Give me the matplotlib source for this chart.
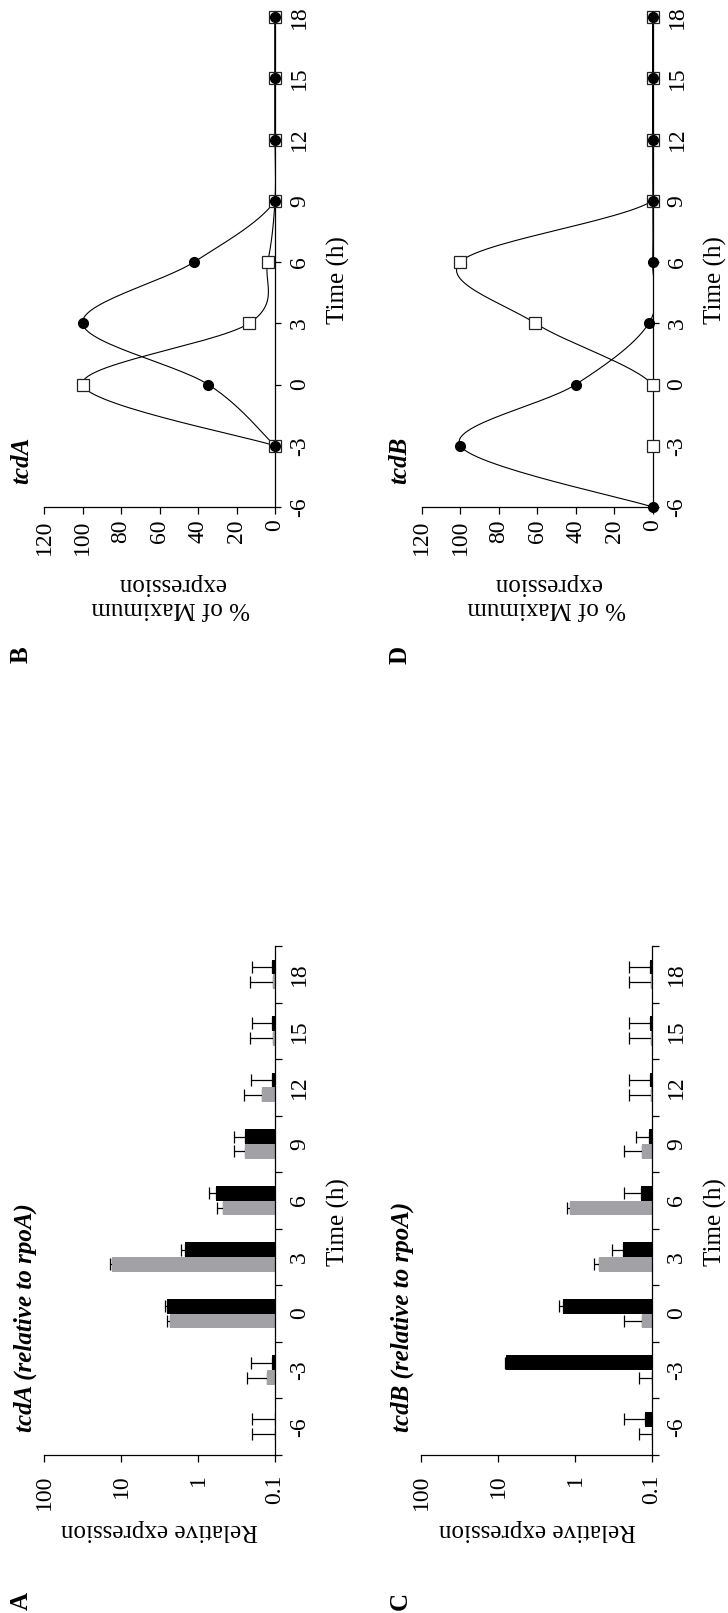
import numpy as np
import matplotlib
matplotlib.use("Agg")
import matplotlib.pyplot as plt
from matplotlib.ticker import NullLocator, FixedLocator

plt.rcParams['font.family'] = ['Liberation Serif', 'DejaVu Serif']

# ---- data -------------------------------------------------------------
times = [-6, -3, 0, 3, 6, 9, 12, 15, 18]
time_labels = ['-6', '-3', '0', '3', '6', '9', '12', '15', '18']

# relative expression of tcdA (grey / black strains) with upper error
tcdA_grey = [0.10, 0.128, 2.31, 13.2, 0.478, 0.245, 0.149, 0.105, 0.105]
tcdA_grey_err = [0.10, 0.106, 0.19, 0.70, 0.09, 0.10, 0.104, 0.105, 0.105]
tcdA_black = [0.10, 0.11, 2.50, 1.47, 0.584, 0.245, 0.11, 0.11, 0.11]
tcdA_black_err = [0.10, 0.097, 0.20, 0.20, 0.13, 0.095, 0.097, 0.09, 0.09]

# relative expression of tcdB
tcdB_grey = [0.10, 0.10, 0.135, 0.483, 1.15, 0.135, 0.103, 0.103, 0.103]
tcdB_grey_err = [0.049, 0.049, 0.098, 0.078, 0.12, 0.098, 0.097, 0.097, 0.097]
tcdB_black = [0.122, 7.87, 1.42, 0.24, 0.139, 0.11, 0.106, 0.106, 0.106]
tcdB_black_err = [0.107, 0.20, 0.21, 0.094, 0.094, 0.051, 0.094, 0.094, 0.094]

# % of maximum expression
pctA_times = [-3, 0, 3, 6, 9, 12, 15, 18]
pctA_circle = [0, 34.7, 100, 42, 0, 0, 0, 0]
pctA_square = [0, 100, 13.4, 3.8, 0, 0, 0, 0]

pctB_circle_times = [-6, -3, 0, 3, 6, 9, 12, 15, 18]
pctB_circle = [0, 100, 40, 2, 0, 0, 0, 0, 0]
pctB_square_times = [-3, 0, 3, 6, 9, 12, 15, 18]
pctB_square = [0, 0, 61, 100, 0, 0, 0, 0]

log_ticks = [100, 10, 1, 0.1]
log_tick_labels = ['100', '10', '1', '0.1']
pct_ticks = [0, 20, 40, 60, 80, 100, 120]

# ---- layout (pixels) ----------------------------------------------------
W, H = 728, 1613
GREY = '#a2a2a6'
TICK_FS = 17
LABEL_FS = 18

fig = plt.figure(figsize=(W / 100, H / 100), dpi=100)


def px_axes(x0, x1, ytop, ybot):
    return fig.add_axes([x0 / W, 1 - ybot / H, (x1 - x0) / W, (ybot - ytop) / H])


def px_text(x, y, s, **kw):
    fig.text(x / W, 1 - y / H, s, **kw)


def smooth(t, v, n=30):
    """Smoothed (Bezier / Catmull-Rom style) curve through the points."""
    P = np.column_stack([t, v]).astype(float)
    Pe = np.vstack([P[0], P, P[-1]])
    s = np.linspace(0, 1, n)[:, None]
    parts = []
    for i in range(len(P) - 1):
        p0, p1, p2, p3 = Pe[i], Pe[i + 1], Pe[i + 2], Pe[i + 3]
        c1 = p1 + (p2 - p0) / 6
        c2 = p2 - (p3 - p1) / 6
        seg = (1 - s) ** 3 * p1 + 3 * (1 - s) ** 2 * s * c1 + 3 * (1 - s) * s ** 2 * c2 + s ** 3 * p2
        parts.append(seg if i == 0 else seg[1:])
    pts = np.vstack(parts)
    return pts[:, 0], pts[:, 1]


def style_axes(ax):
    for side in ('top', 'left'):
        ax.spines[side].set_visible(False)
    for side in ('bottom', 'right'):
        ax.spines[side].set_linewidth(0.9)
    ax.yaxis.tick_right()
    ax.set_facecolor('none')


def bar_panel(ax, grey, grey_err, black, black_err):
    idx = np.arange(len(times))
    h = 0.26
    base = 0.1
    ax.set_xscale('log')
    ax.set_xlim(100, 0.1)
    ax.set_ylim(-0.5, len(times) - 0.5)
    g = np.array(grey)
    b = np.array(black)
    ax.barh(idx - h / 2, g - base, left=base, height=h, color=GREY, zorder=2)
    ax.barh(idx + h / 2, b - base, left=base, height=h, color='black', zorder=2)
    z = np.zeros(len(times))
    ax.errorbar(g, idx - h / 2, xerr=[z, grey_err], fmt='none', ecolor='black',
                elinewidth=0.9, capsize=4.3, capthick=0.9, zorder=1)
    ax.errorbar(b, idx + h / 2, xerr=[z, black_err], fmt='none', ecolor='black',
                elinewidth=0.9, capsize=4.3, capthick=0.9, zorder=1)
    style_axes(ax)
    ax.set_xticks(log_ticks, log_tick_labels)
    ax.xaxis.set_minor_locator(NullLocator())
    ax.tick_params(axis='x', which='major', direction='out', length=5, width=0.9,
                   pad=9, labelsize=TICK_FS, labelrotation=90)
    ax.set_yticks(idx, time_labels)
    ax.yaxis.set_minor_locator(FixedLocator(np.arange(len(times) + 1) - 0.5))
    ax.tick_params(axis='y', which='major', length=0, pad=10,
                   labelsize=TICK_FS, labelrotation=90)
    ax.tick_params(axis='y', which='minor', direction='out', length=5, width=0.9)
    for lab in ax.get_yticklabels():
        lab.set_va('center')


def pct_panel(ax, ct, cv, st, sv):
    ax.set_xlim(120, 0)
    ax.set_ylim(-6, 18)
    xs, ys = smooth(st, sv)
    ax.plot(ys, xs, color='black', lw=0.8, zorder=2)
    xc, yc = smooth(ct, cv)
    ax.plot(yc, xc, color='black', lw=0.8, zorder=2)
    ax.plot(sv, st, linestyle='none', marker='s', ms=8.5, mfc='white',
            mec='#222222', mew=0.9, zorder=4, clip_on=False)
    ax.plot(cv, ct, linestyle='none', marker='o', ms=7, mfc='black',
            mec='black', zorder=5, clip_on=False)
    style_axes(ax)
    ax.set_xticks(pct_ticks, [str(v) for v in pct_ticks])
    ax.tick_params(axis='x', direction='out', length=5, width=0.9, pad=4,
                   labelsize=TICK_FS, labelrotation=90)
    ax.set_yticks(times, time_labels)
    ax.tick_params(axis='y', direction='out', length=4, width=0.9, pad=6,
                   labelsize=TICK_FS, labelrotation=90)
    for lab in ax.get_yticklabels():
        lab.set_va('center')


# ---- panels -------------------------------------------------------------
axA = px_axes(44, 275, 946, 1455)
bar_panel(axA, tcdA_grey, tcdA_grey_err, tcdA_black, tcdA_black_err)
axC = px_axes(421, 652, 946, 1455)
bar_panel(axC, tcdB_grey, tcdB_grey_err, tcdB_black, tcdB_black_err)

axB = px_axes(44, 275, 17, 507)
pct_panel(axB, pctA_times, pctA_circle, pctA_times, pctA_square)
axD = px_axes(421.7, 652.7, 17, 507)
pct_panel(axD, pctB_circle_times, pctB_circle, pctB_square_times, pctB_square)

# ---- text ---------------------------------------------------------------
bold = dict(fontsize=18, fontweight='bold', rotation=90, ha='center', va='center')
px_text(21, 1601, 'A', **bold)
px_text(400, 1601, 'C', **bold)
px_text(21, 655, 'B', **bold)
px_text(400, 655, 'D', **bold)

title = dict(fontsize=18, fontweight='bold', fontstyle='italic', rotation=90,
             ha='center', va='bottom')
px_text(25, 1432, 'tcdA (relative to rpoA)', **title)
px_text(402, 1432, 'tcdB (relative to rpoA)', **title)
px_text(21.5, 484, 'tcdA', **title)
px_text(400, 484, 'tcdB', **title)

ylab = dict(fontsize=LABEL_FS, rotation=180, ha='center', va='center')
px_text(160, 1530, 'Relative expression', **ylab)
px_text(537, 1530, 'Relative expression', **ylab)
px_text(171, 596, '% of Maximum\nexpression', linespacing=1.15, **ylab)
px_text(547, 596, '% of Maximum\nexpression', linespacing=1.15, **ylab)

xlab = dict(fontsize=LABEL_FS, rotation=90, ha='center', va='center')
px_text(338, 1222, 'Time (h)', **xlab)
px_text(715, 1222, 'Time (h)', **xlab)
px_text(338, 280, 'Time (h)', **xlab)
px_text(715, 280, 'Time (h)', **xlab)

fig.savefig('out.png', dpi=100, facecolor='white')
